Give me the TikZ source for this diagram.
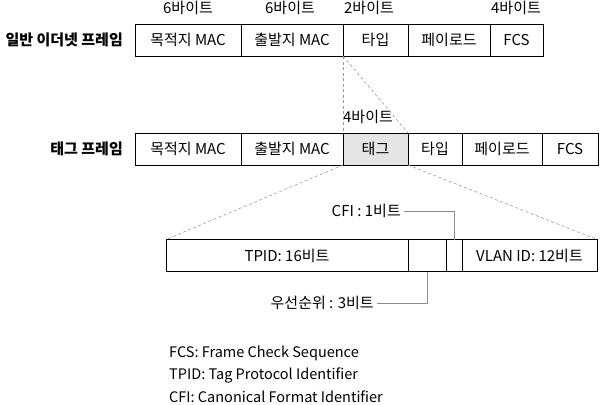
\documentclass[tikz,border=0pt]{standalone}
\usepackage{fontspec}
\setmainfont{Noto Sans CJK KR}
\usetikzlibrary{positioning}

\begin{document}
\begin{tikzpicture}
  [
    x=1bp, y=-1bp,
    cell/.style={
      draw, rectangle, line width=0.8bp,
      minimum height=32bp, inner sep=0pt, outer sep=0pt,
      font=\fontsize{15bp}{17bp}\selectfont
    },
    tagcell/.style={
      cell, fill=black!10
    },
    size/.style={
      inner sep=0pt,
      font=\fontsize{15bp}{17bp}\selectfont
    },
    title/.style={
      anchor=east, inner sep=0pt,
      font=\fontsize{15bp}{17bp}\selectfont\bfseries
    },
    zoomline/.style={
      draw=black!40, line width=0.6bp, dash pattern=on 3bp off 2.5bp
    },
    leader/.style={
      draw=black!45, line width=0.7bp
    },
    legend/.style={
      anchor=west, inner sep=0pt,
      font=\fontsize{14.5bp}{17bp}\selectfont
    }
  ]
\useasboundingbox (0,0) rectangle (600,404);

% Ethernet frame
\node [title] (ethname) at (123,40) {일반 이더넷 프레임};
\node (e1) [cell, minimum width=106bp] at (188,40)   {목적지 MAC};
\node (e2) [cell, minimum width=102bp] at (292,40)   {출발지 MAC};
\node (e3) [cell, minimum width=65bp]  at (375.5,40) {타입};
\node (e4) [cell, minimum width=82bp]  at (449,40)   {페이로드};
\node (e5) [cell, minimum width=53bp]  at (516.5,40) {FCS};

\node (s1) [size] at (188,8)   {6바이트};
\node (s2) [size] at (290,8)   {6바이트};
\node (s3) [size] at (369,8)   {2바이트};
\node (s4) [size] at (516,8)   {4바이트};

% Tagged frame
\node [title] (tagname) at (123,149) {태그 프레임};
\node (t1) [cell, minimum width=106bp] at (188,149)   {목적지 MAC};
\node (t2) [cell, minimum width=102bp] at (292,149)   {출발지 MAC};
\node (t3) [tagcell, minimum width=65bp] at (375.5,149) {태그};
\node (t4) [cell, minimum width=54bp]  at (435,149)   {타입};
\node (t5) [cell, minimum width=80bp]  at (502,149)   {페이로드};
\node (t6) [cell, minimum width=56bp]  at (570,149)   {FCS};

\node (s5) [size] at (368,117) {4바이트};

\draw [zoomline] (e3.south west) -- (t3.north west);
\draw [zoomline] (e3.south west) -- (t3.north east);

% Tag fields
\node (b1) [cell, minimum width=242bp] at (287,255.5)   {TPID: 16비트};
\node (b2) [cell, minimum width=38bp]  at (427,255.5)   {};
\node (b3) [cell, minimum width=16bp]  at (454,255.5)   {};
\node (b4) [cell, minimum width=135bp] at (529.5,255.5) {VLAN ID: 12비트};

\draw [zoomline] (t3.south west) -- (b1.north west);
\draw [zoomline] (t3.south east) -- (b4.north east);

\node (cfi) [size, anchor=east] at (401,211) {CFI : 1비트};
\draw [leader] ([xshift=3bp]cfi.east) -| (b3.north);

\node (pri) [size, anchor=east] at (374,303) {우선순위 : 3비트};
\draw [leader] ([xshift=3bp]pri.east) -| (b2.south);

% Legend
\node (l1) [legend] at (169,353) {FCS: Frame Check Sequence};
\node (l2) [legend] at (169,375) {TPID: Tag Protocol Identifier};
\node (l3) [legend] at (169,397) {CFI: Canonical Format Identifier};

\end{tikzpicture}
\end{document}
